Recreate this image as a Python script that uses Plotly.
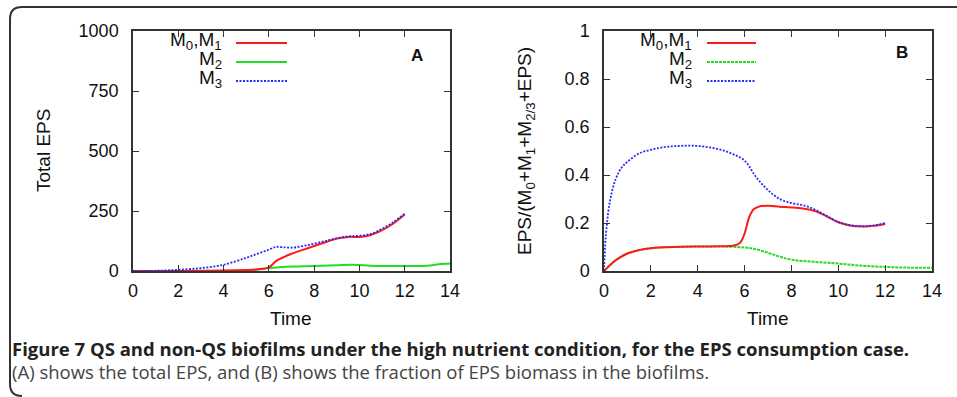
import plotly.graph_objects as go

W, H = 957, 397

# ---------------- data ----------------
# Panel A: Total EPS
tA_blue = [0, 1, 2, 3, 4, 5, 5.5, 6, 6.3, 6.6, 7, 7.5, 8, 8.5, 9, 9.5, 10, 10.5, 11, 11.5, 12]
A_M3 = [0, 1, 5, 12, 26, 55, 72, 89, 100, 99, 97, 104, 114, 125, 137, 144, 147, 155, 176, 204, 239]
tA_red = [0, 1, 2, 3, 4, 5, 5.5, 6, 6.3, 6.5, 7, 7.5, 8, 8.5, 9, 9.5, 10, 10.5, 11, 11.5, 12]
A_M01 = [0, 0, 0, 1, 2, 4, 7, 15, 40, 51, 72, 88, 104, 120, 135, 142, 142, 150, 170, 198, 235]
tA_green = [0, 2, 4, 5, 5.5, 6, 6.5, 7, 8, 9, 9.7, 10.5, 11, 12, 13, 13.5, 14]
A_M2 = [0, 0, 1, 3, 6, 12, 16, 19, 21, 24, 26, 22, 21, 21, 22, 28, 31]

# Panel B: EPS fraction
tB_blue = [0, 0.05, 0.1, 0.25, 0.5, 0.75, 1, 1.5, 2, 2.5, 3, 3.5, 4, 4.5, 5, 5.5, 6, 6.5, 7,
           7.5, 8, 8.5, 9, 9.5, 10, 10.5, 11, 11.5, 12]
B_M3 = [0, 0.11, 0.17, 0.29, 0.383, 0.43, 0.455, 0.49, 0.505, 0.515, 0.52, 0.522, 0.521,
        0.515, 0.505, 0.487, 0.46, 0.39, 0.337, 0.30, 0.283, 0.274, 0.256, 0.23, 0.204,
        0.191, 0.186, 0.19, 0.2]
tB_red = [0, 0.5, 1, 1.5, 2, 3, 4, 5, 5.5, 5.8, 6, 6.2, 6.4, 6.6, 7, 7.5, 8, 8.5, 9, 9.5,
          10, 10.5, 11, 11.5, 12]
B_M01 = [0, 0.045, 0.073, 0.087, 0.095, 0.1, 0.102, 0.103, 0.105, 0.117, 0.156, 0.225,
         0.258, 0.268, 0.272, 0.268, 0.265, 0.26, 0.25, 0.228, 0.203, 0.19, 0.186, 0.188, 0.196]
tB_green = [0, 0.5, 1, 1.5, 2, 3, 4, 5, 6, 6.5, 7, 7.5, 8, 9, 10, 11, 12, 13, 14]
B_M2 = [0, 0.045, 0.073, 0.087, 0.095, 0.1, 0.102, 0.102, 0.098, 0.09, 0.076, 0.06, 0.047,
        0.038, 0.031, 0.022, 0.017, 0.014, 0.014]

x_ticks = [0, 2, 4, 6, 8, 10, 12, 14]
yA_ticks = [0, 250, 500, 750, 1000]
yB_ticks = [0, 0.2, 0.4, 0.6, 0.8, 1]

legend_labels = ["M<sub>0</sub>,M<sub>1</sub>", "M<sub>2</sub>", "M<sub>3</sub>"]
caption_bold = "Figure 7 QS and non-QS biofilms under the high nutrient condition, for the EPS consumption case."
caption_text = "(A) shows the total EPS, and (B) shows the fraction of EPS biomass in the biofilms."

# ---------------- styling ----------------
RED, GREEN, BLUE = "#ff1a1a", "#22dd22", "#2a2aff"
FONT = "Liberation Sans"
CAP_FONT = "Open Sans"


def px_x(x):
    return x / W


def px_y(y):
    return 1 - y / H


fig = go.Figure()

# panel A
fig.add_trace(go.Scatter(x=tA_green, y=A_M2, mode="lines", line=dict(color=GREEN, width=2, shape="spline"),
                         xaxis="x", yaxis="y", showlegend=False))
fig.add_trace(go.Scatter(x=tA_red, y=A_M01, mode="lines", line=dict(color=RED, width=2, shape="spline"),
                         xaxis="x", yaxis="y", showlegend=False))
fig.add_trace(go.Scatter(x=tA_blue, y=A_M3, mode="lines",
                         line=dict(color=BLUE, width=1.8, dash="2px,1.5px", shape="spline"),
                         xaxis="x", yaxis="y", showlegend=False))
# panel B
fig.add_trace(go.Scatter(x=tB_green, y=B_M2, mode="lines",
                         line=dict(color=GREEN, width=2, dash="3px,1px", shape="spline"),
                         xaxis="x2", yaxis="y2", showlegend=False))
fig.add_trace(go.Scatter(x=tB_red, y=B_M01, mode="lines", line=dict(color=RED, width=2, shape="spline"),
                         xaxis="x2", yaxis="y2", showlegend=False))
fig.add_trace(go.Scatter(x=tB_blue, y=B_M3, mode="lines",
                         line=dict(color=BLUE, width=1.8, dash="2px,1.5px", shape="spline"),
                         xaxis="x2", yaxis="y2", showlegend=False))

axis_common = dict(showline=True, linecolor="#333", linewidth=1.5, mirror="ticks",
                   ticks="inside", ticklen=6, tickwidth=1.2, tickcolor="#333",
                   showgrid=False, zeroline=False, automargin=False,
                   tickfont=dict(family=FONT, size=18, color="#111"))

ydom = [px_y(271), px_y(31)]
fig.update_layout(
    template="none",
    width=W, height=H, autosize=False,
    margin=dict(l=0, r=0, t=0, b=0, pad=0),
    paper_bgcolor="white", plot_bgcolor="white",
    showlegend=False,
    xaxis=dict(domain=[px_x(133), px_x(450)], range=[0, 14], tickvals=x_ticks, anchor="y",
               ticklabelstandoff=3, **axis_common),
    yaxis=dict(domain=ydom, range=[0, 1000], tickvals=yA_ticks, anchor="x",
               ticklabelstandoff=9, **axis_common),
    xaxis2=dict(domain=[px_x(604), px_x(932)], range=[0, 14], tickvals=x_ticks, anchor="y2",
                ticklabelstandoff=3, **axis_common),
    yaxis2=dict(domain=ydom, range=[0, 1], tickvals=yB_ticks, anchor="x2",
                ticklabelstandoff=9, **axis_common),
)

ann = []
shapes = []


def add_text(x, y, text, font, xanchor="center", yanchor="middle", angle=0):
    ann.append(dict(x=px_x(x), y=px_y(y), xref="paper", yref="paper", text=text, showarrow=False,
                    xanchor=xanchor, yanchor=yanchor, textangle=angle, font=font))


TF = dict(family=FONT, size=19, color="#111")
# axis titles
add_text(291, 318, "Time", TF)
add_text(768, 318, "Time", TF)
add_text(44, 151, "Total EPS", TF, angle=-90)
add_text(526, 151, "EPS/(M<sub>0</sub>+M<sub>1</sub>+M<sub>2/3</sub>+EPS)", TF, angle=-90)

# panel letters
add_text(417, 55, "<b>A</b>", dict(family=FONT, size=17, color="#111"))
add_text(902, 52, "<b>B</b>", dict(family=FONT, size=17, color="#111"))

# legends (label on the left, sample line to the right)
leg_styles_A = [(RED, None), (GREEN, None), (BLUE, "2px,1.5px")]
leg_styles_B = [(RED, None), (GREEN, "3px,1px"), (BLUE, "2px,1.5px")]
leg_rows = [41, 60, 79]
for (txt_r, l0, l1, styles) in [(224, 236, 287, leg_styles_A), (694, 707, 756, leg_styles_B)]:
    for lab, yy, (col, dash) in zip(legend_labels, leg_rows, styles):
        add_text(txt_r, yy, lab, dict(family=FONT, size=19, color="#111"), xanchor="right")
        line = dict(color=col, width=2)
        if dash:
            line["dash"] = dash
        shapes.append(dict(type="line", xref="paper", yref="paper",
                           x0=px_x(l0), x1=px_x(l1), y0=px_y(yy + 2), y1=px_y(yy + 2), line=line))

# caption
add_text(10, 348, "<b>" + caption_bold + "</b>", dict(family=CAP_FONT, size=18.5, color="#222"),
         xanchor="left")
add_text(10, 371, caption_text, dict(family=CAP_FONT, size=18.5, color="#444"), xanchor="left")

# outer rounded frame
x0, y0, x1, y1, r = 10, 7, 975, 396, 12
path = (f"M {px_x(x0)},{px_y(y0 + r)} Q {px_x(x0)},{px_y(y0)} {px_x(x0 + r)},{px_y(y0)} "
        f"L {px_x(x1)},{px_y(y0)} "
        f"M {px_x(x0)},{px_y(y0 + r)} L {px_x(x0)},{px_y(y1 - r)} "
        f"Q {px_x(x0)},{px_y(y1)} {px_x(x0 + r)},{px_y(y1)}")
shapes.append(dict(type="path", xref="paper", yref="paper", path=path,
                   line=dict(color="#333", width=2)))

fig.update_layout(annotations=ann, shapes=shapes)
fig.write_html("out.html")
